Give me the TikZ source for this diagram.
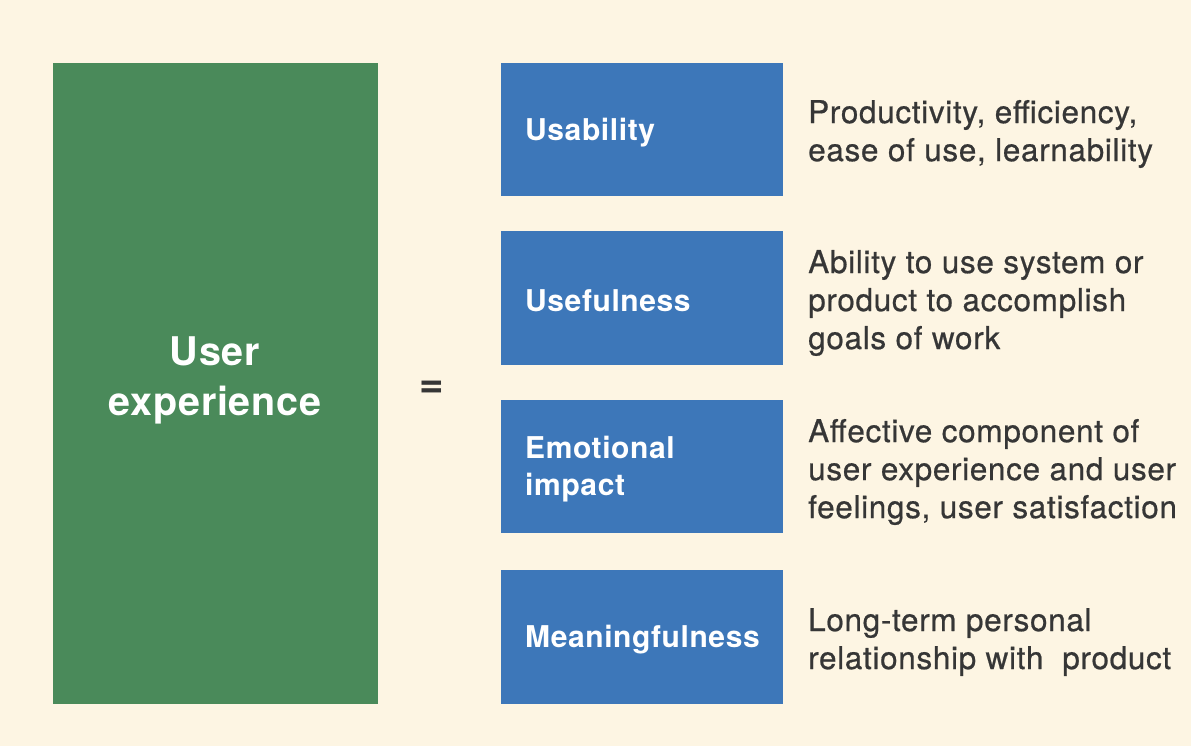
\documentclass[tikz,border=0pt]{standalone}
\usepackage{fontspec}
\setmainfont{TeX Gyre Heros}
\newfontfamily\labelfont[LetterSpace=2.0]{TeX Gyre Heros}
\newfontfamily\notefont[LetterSpace=2.1,FakeBold=0.6]{TeX Gyre Heros}
\definecolor{paper}{HTML}{FDF5E3}
\definecolor{uxgreen}{HTML}{4A8A5A}
\definecolor{uxblue}{HTML}{3D77B9}
\definecolor{ink}{HTML}{363636}
\begin{document}
\begin{tikzpicture}[x=1pt,y=-1pt,
  whole/.style={fill=uxgreen, draw=none},
  facet/.style={fill=uxblue, draw=none},
  facetlabel/.style={anchor=west, text=white, align=left, inner sep=0pt,
    font=\labelfont\fontsize{30}{37}\selectfont\bfseries},
  wholelabel/.style={text=white, align=center, inner sep=0pt,
    font=\labelfont\fontsize{39.5}{50}\selectfont\bfseries},
  note/.style={anchor=west, text=ink, align=left, inner sep=0pt,
    font=\notefont\fontsize{31.5}{38}\selectfont}]
  \fill[paper] (0,0) rectangle (1191,746);
  \useasboundingbox (0,0) rectangle (1191,746);

  % overall concept
  \fill[whole] (53,63) rectangle (378,704);
  \node[wholelabel] (ux) at (215,380) {User\\experience};
  \node[text=ink, font=\fontsize{42}{44}\selectfont\bfseries, inner sep=0pt] (eq) at (432,389) {=};

  % the four facets
  \fill[facet] (501,63) rectangle (783,196);
  \fill[facet] (501,231) rectangle (783,365);
  \fill[facet] (501,400) rectangle (783,533);
  \fill[facet] (501,570) rectangle (783,704);

  \node[facetlabel] (usab) at (525,133) {Usability};
  \node[facetlabel] (usef) at (525,301) {Usefulness};
  \node[facetlabel] (emo) at (525,469) {Emotional\\impact};
  \node[facetlabel] (mean) at (525,640) {Meaningfulness};

  % descriptions
  \node[note] (d1) at (808,134) {Productivity, efficiency,\\ease of use, learnability};
  \node[note] (d2) at (808,303) {Ability to use system or\\product to accomplish\\goals of work};
  \node[note] (d3) at (808,472) {Affective component of\\user experience and user\\feelings, user satisfaction};
  \node[note] (d4) at (808,642) {Long-term personal\\relationship with\ \ product};
\end{tikzpicture}
\end{document}
